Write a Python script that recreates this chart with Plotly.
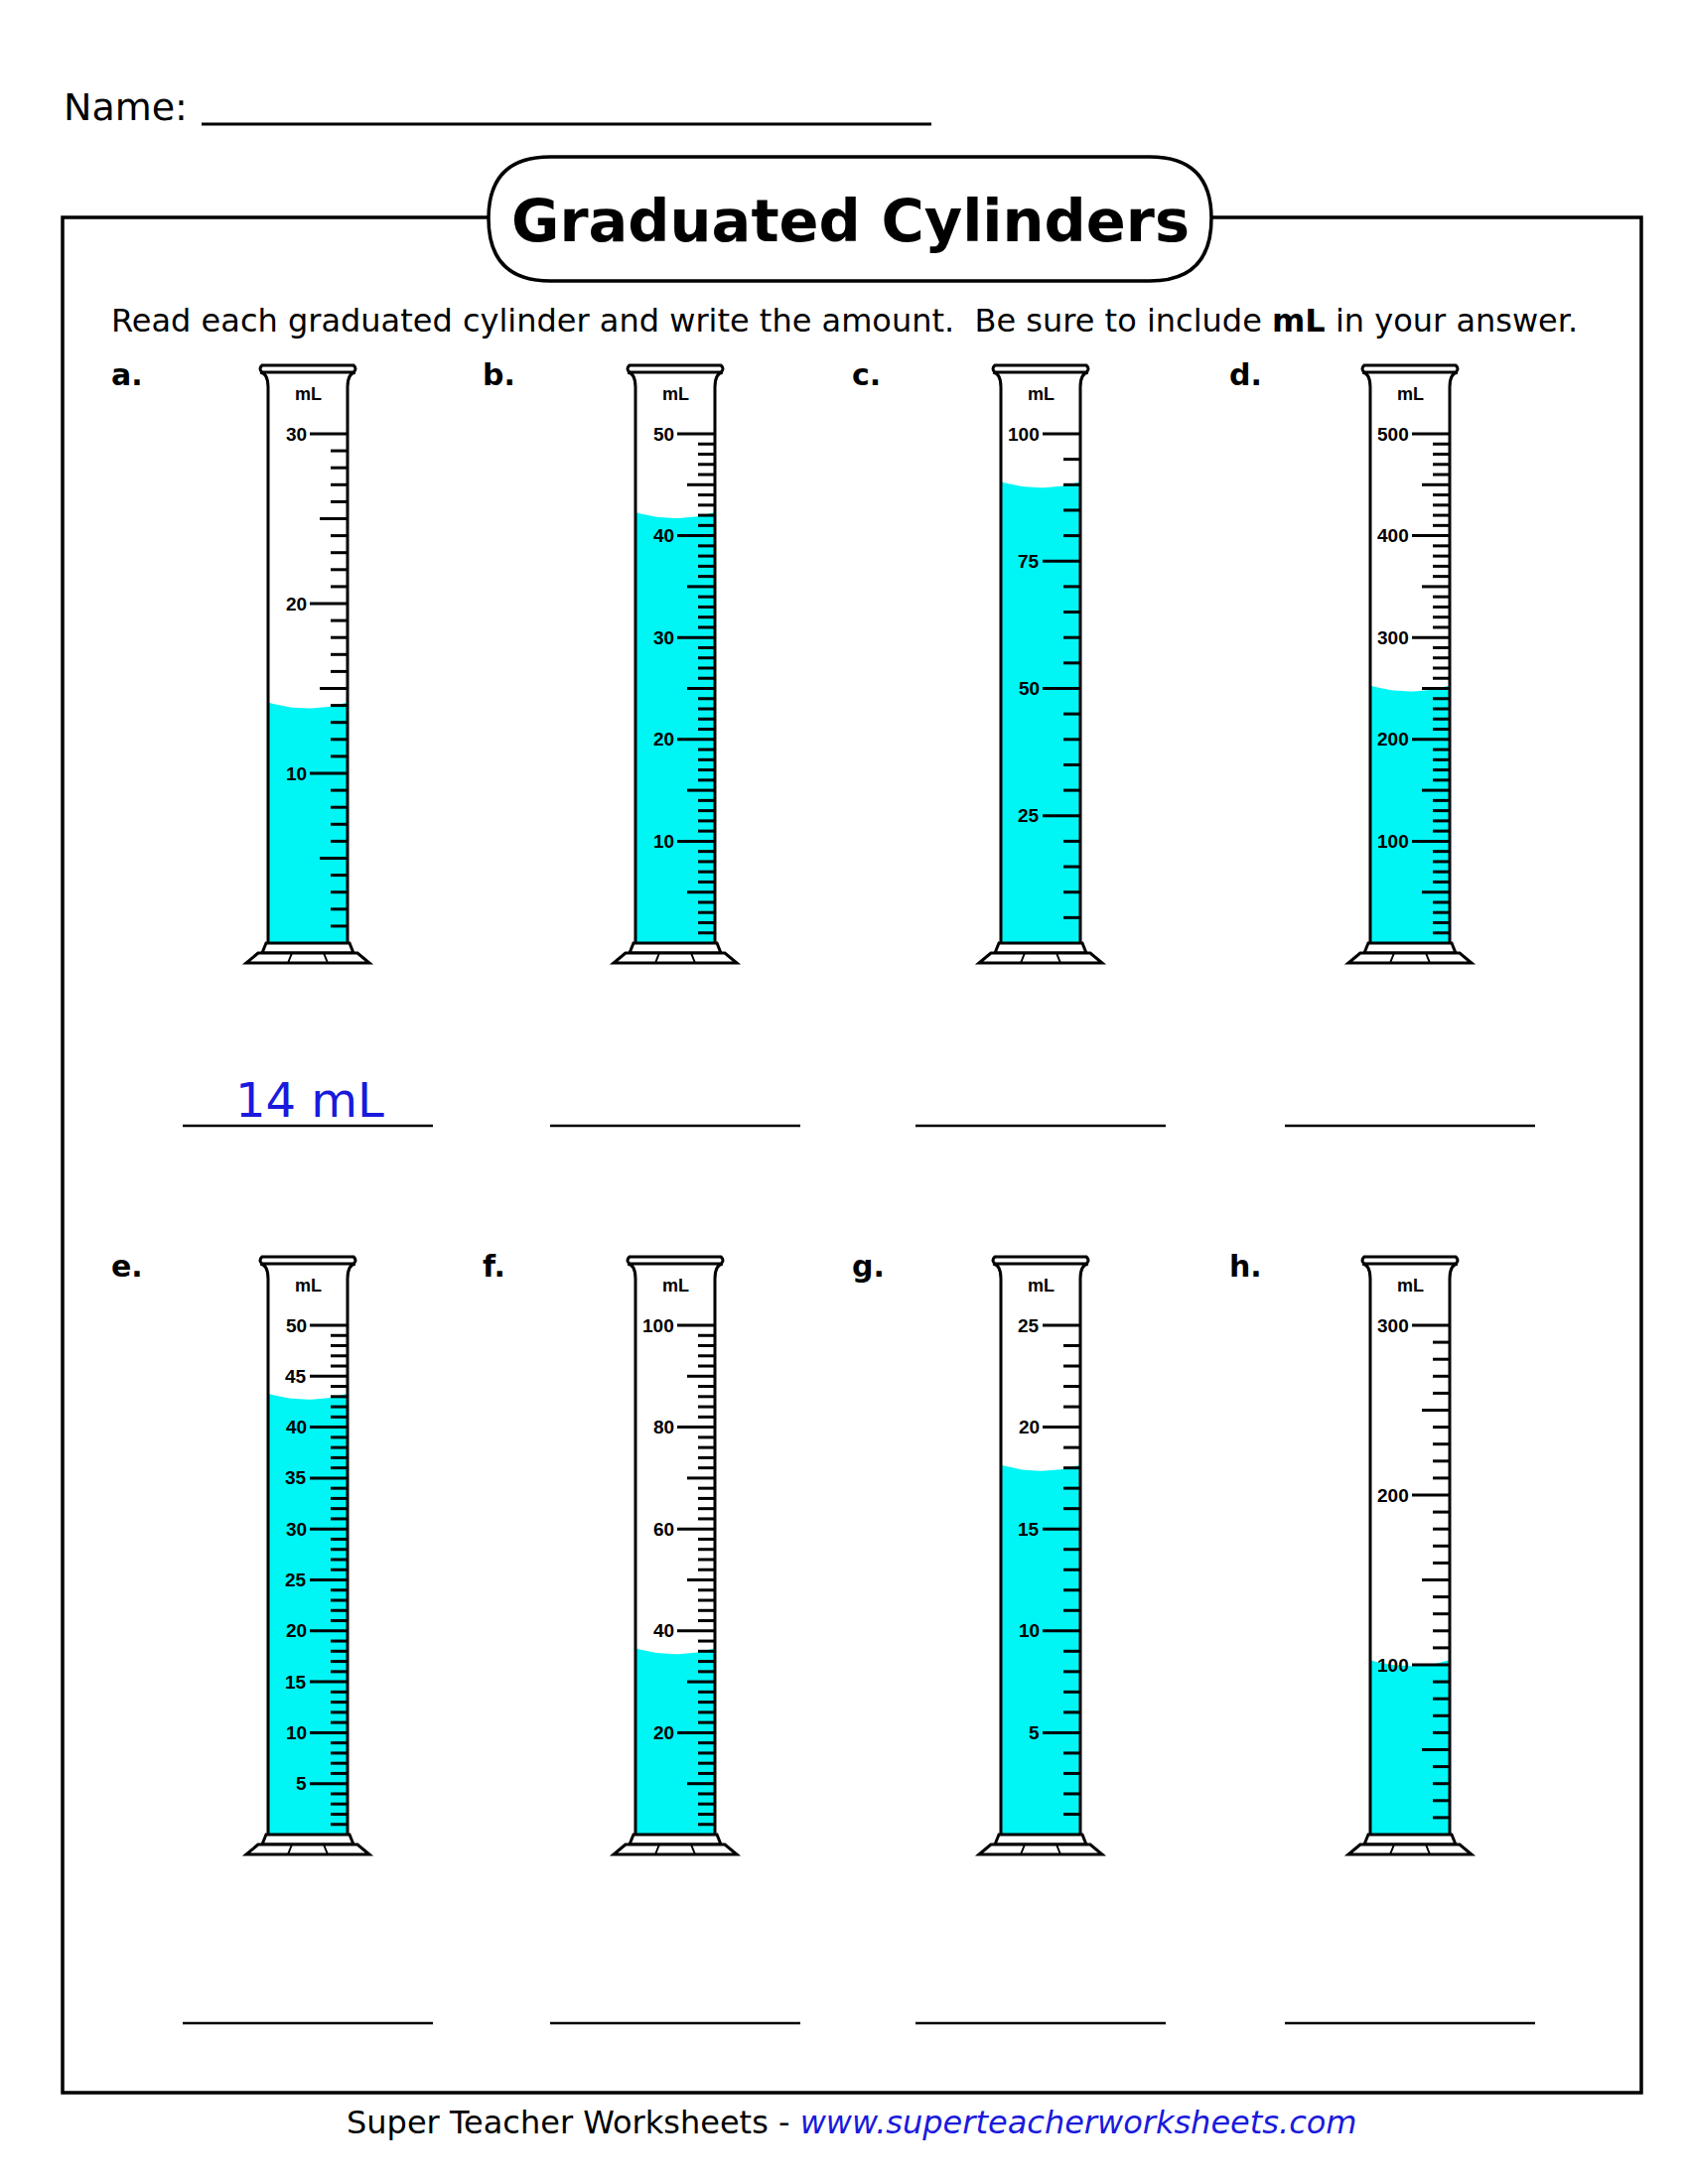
import plotly.graph_objects as go

letters = ['a.', 'b.', 'c.', 'd.', 'e.', 'f.', 'g.', 'h.']
max_vals = [30, 50, 100, 500, 50, 100, 25, 300]
major_steps = [10, 10, 25, 100, 5, 20, 5, 100]
minor_steps = [1, 1, 5, 10, 1, 2, 1, 10]
mid_steps = [5, 5, None, 50, None, 10, None, 50]
levels = [14, 42, 90, 250, 43, 36, 18, 101]
answers = ['14 mL', '', '', '', '', '', '', '']

centers = [302, 672, 1040, 1412]
letter_x = [102, 476, 848, 1228]
row_dy = 898
TOP, BOT = 429, 942
HW = 40
CYAN = '#00f5f5'

fig = go.Figure()
shapes = []
annotations = []


def ypix(row, v, vmax):
    top = TOP + row * row_dy
    bot = BOT + row * row_dy
    return bot - (bot - top) * v / vmax


for i in range(8):
    row, col = divmod(i, 4)
    cx = centers[col]
    dy = row * row_dy
    bot = BOT + dy
    vmax = max_vals[i]

    # liquid with meniscus
    yl = ypix(row, levels[i], vmax)
    xs = [cx - HW, cx - HW]
    ys = [bot, yl - 3]
    for k in range(21):
        t = k / 20
        xs.append(cx - HW + 2 * HW * t)
        ys.append(yl - 3 + 6 * (1 - (2 * t - 1) ** 2))
    xs += [cx + HW, cx - HW]
    ys += [bot, bot]
    fig.add_trace(go.Scatter(x=xs, y=ys, fill='toself', fillcolor=CYAN,
                             line=dict(width=0), mode='lines', hoverinfo='skip'))

    # ticks
    tx, ty = [], []
    n = int(round(vmax / minor_steps[i]))
    for k in range(1, n + 1):
        v = k * minor_steps[i]
        y = ypix(row, v, vmax)
        if v % major_steps[i] == 0:
            x0 = cx + 2
            annotations.append(dict(x=cx + 1, y=y, text=f'<b>{v}</b>', showarrow=False,
                                    xanchor='right', yanchor='middle',
                                    font=dict(size=19, color='black', family='Liberation Sans')))
        elif mid_steps[i] and v % mid_steps[i] == 0:
            x0 = cx + HW - 28
        else:
            x0 = cx + HW - 17
        tx += [x0, cx + HW, None]
        ty += [y, y, None]
    fig.add_trace(go.Scatter(x=tx, y=ty, mode='lines', line=dict(color='black', width=3),
                             hoverinfo='skip'))

    annotations.append(dict(x=cx, y=389 + dy, text='<b>mL</b>', showarrow=False,
                            font=dict(size=18, color='black', family='Liberation Sans')))

    # walls with flared top
    rt = 360 + dy
    shapes.append(dict(type='path', line=dict(color='black', width=3),
                       path=f'M {cx-HW} {bot} L {cx-HW} {rt+22} Q {cx-HW} {rt+8} {cx-HW-8} {rt+7} '
                            f'M {cx+HW} {bot} L {cx+HW} {rt+22} Q {cx+HW} {rt+8} {cx+HW+8} {rt+7}'))
    shapes.append(dict(type='path', line=dict(color='black', width=3), fillcolor='white',
                       path=f'M {cx-46} {rt} L {cx+46} {rt} Q {cx+50} {rt+3.5} {cx+46} {rt+7} '
                            f'L {cx-46} {rt+7} Q {cx-50} {rt+3.5} {cx-46} {rt} Z'))
    # base
    shapes.append(dict(type='path', line=dict(color='black', width=3), fillcolor='white',
                       path=f'M {cx-HW-2} {bot} L {cx-46} {bot+10} L {cx+46} {bot+10} L {cx+HW+2} {bot} Z'))
    shapes.append(dict(type='path', line=dict(color='black', width=3), fillcolor='white',
                       path=f'M {cx-50} {bot+10} L {cx-62} {bot+20} L {cx+62} {bot+20} L {cx+50} {bot+10} Z'))
    shapes.append(dict(type='path', line=dict(color='black', width=2),
                       path=f'M {cx-16} {bot+10} L {cx-20} {bot+20} M {cx+16} {bot+10} L {cx+20} {bot+20}'))

    # letter
    annotations.append(dict(x=letter_x[col], y=369 + dy, text=f'<b>{letters[i]}</b>', showarrow=False,
                            xanchor='left', font=dict(size=30, color='black', family='DejaVu Sans')))

    # answer line
    ay = 1126 + (2030 - 1126) * row
    shapes.append(dict(type='line', x0=cx - 126, x1=cx + 126, y0=ay, y1=ay,
                       line=dict(color='black', width=2.5)))
    if answers[i]:
        annotations.append(dict(x=cx + 2, y=ay - 26, text=answers[i], showarrow=False,
                                font=dict(size=48, color='#1a1adc', family='DejaVu Sans')))

# page frame and title
shapes.append(dict(type='rect', x0=55, x1=1645, y0=211, y1=2100, line=dict(color='black', width=3.5)))
shapes.append(dict(type='path', line=dict(color='black', width=3.5), fillcolor='white',
                   path='M 546 150 L 1150 150 Q 1212 150 1212 212 Q 1212 275 1150 275 '
                        'L 546 275 Q 484 275 484 212 Q 484 150 546 150 Z'))
shapes.append(dict(type='line', x0=195, x1=930, y0=117, y1=117, line=dict(color='black', width=3)))

annotations += [
    dict(x=54, y=100, text='Name:', showarrow=False, xanchor='left',
         font=dict(size=38, color='black', family='DejaVu Sans')),
    dict(x=848, y=214, text='<b>Graduated Cylinders</b>', showarrow=False,
         font=dict(size=59, color='black', family='DejaVu Sans')),
    dict(x=102, y=315, text='Read each graduated cylinder and write the amount.  Be sure to include <b>mL</b> in your answer.',
         showarrow=False, xanchor='left', font=dict(size=32, color='black', family='DejaVu Sans')),
    dict(x=850, y=2130, text='Super Teacher Worksheets - <i><span style="color:#1a1adc">www.superteacherworksheets.com</span></i>',
         showarrow=False, font=dict(size=32, color='black', family='DejaVu Sans')),
]

fig.update_layout(
    width=1700, height=2200,
    margin=dict(l=0, r=0, t=0, b=0),
    plot_bgcolor='white', paper_bgcolor='white',
    showlegend=False,
    shapes=shapes,
    annotations=annotations,
    xaxis=dict(range=[0, 1700], visible=False, fixedrange=True),
    yaxis=dict(range=[2200, 0], visible=False, fixedrange=True),
)

fig.write_html('out.html')
